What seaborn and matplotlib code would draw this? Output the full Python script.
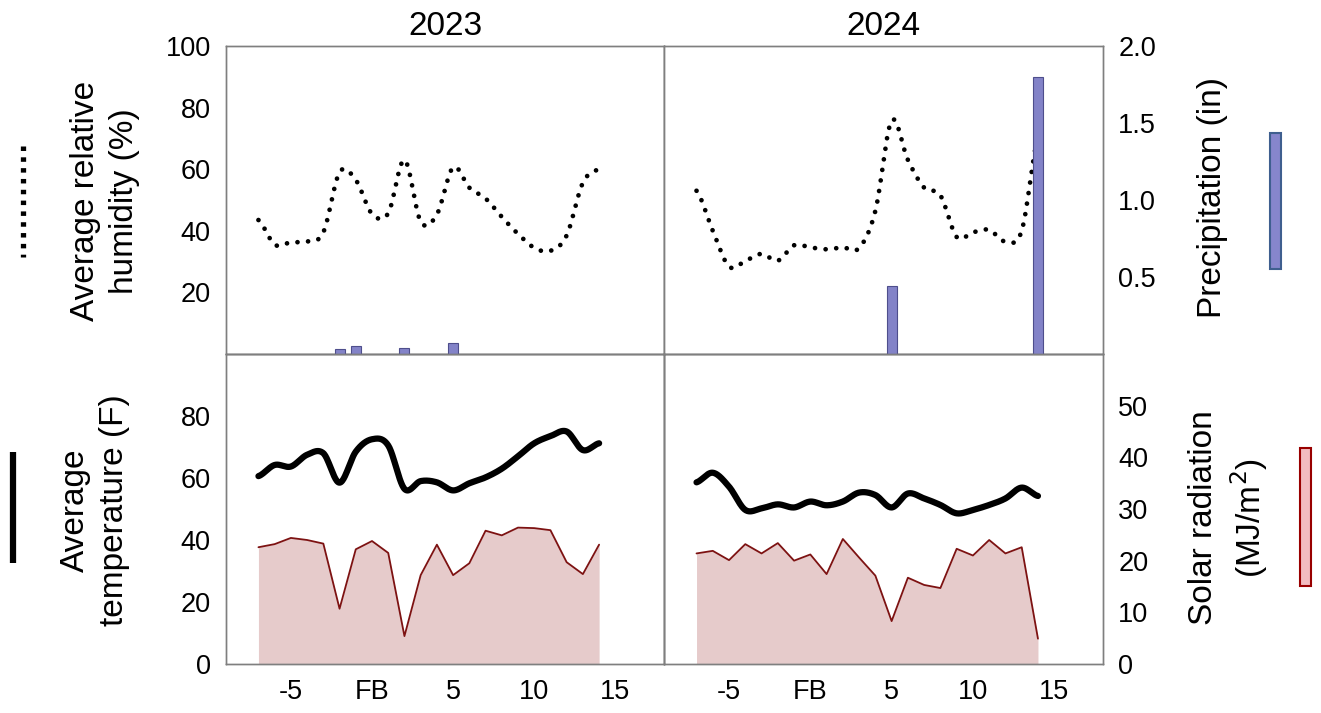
import numpy as np
import pandas as pd
import matplotlib
matplotlib.use("Agg")
import matplotlib.pyplot as plt
import seaborn as sns
from matplotlib.lines import Line2D
from matplotlib.patches import Rectangle

# ---------------- data ----------------
days = list(range(-7, 15))
years = ["2023", "2024"]

humidity_2023 = [43.5, 35.5, 36.3, 36.5, 39.5, 59.0, 56.5, 45.5, 45.7, 63.0, 43.0,
                 45.3, 60.6, 54.0, 50.5, 44.5, 39.0, 34.5, 33.5, 38.5, 55.6, 60.0]
humidity_2024 = [53.0, 40.0, 28.4, 30.2, 32.5, 30.3, 35.3, 34.6, 34.0, 34.6, 34.4,
                 46.5, 75.8, 63.0, 54.0, 51.5, 38.0, 39.5, 40.3, 36.5, 40.0, 70.0]

precip_days_2023 = [-2, -1, 2, 5]
precip_2023 = [0.03, 0.05, 0.04, 0.07]
precip_days_2024 = [5, 14]
precip_2024 = [0.44, 1.80]

temp_2023 = [60.6, 64.2, 63.7, 67.5, 68.0, 58.5, 68.5, 72.5, 70.5, 56.5, 59.0,
             58.6, 56.0, 58.3, 60.2, 63.0, 67.0, 71.2, 73.5, 75.0, 69.0, 71.2]
temp_2024 = [58.6, 61.7, 57.2, 49.7, 50.2, 51.5, 50.5, 52.4, 51.2, 52.4, 55.3,
             54.5, 50.5, 55.0, 53.4, 51.3, 48.6, 49.7, 51.3, 53.4, 56.9, 54.2]

solar_2023 = [22.6, 23.2, 24.4, 24.0, 23.3, 10.7, 22.2, 23.8, 21.5, 5.4, 17.2,
              23.1, 17.2, 19.5, 25.8, 24.9, 26.4, 26.3, 25.9, 19.7, 17.4, 23.1]
solar_2024 = [21.4, 21.9, 20.1, 23.2, 21.4, 23.4, 20.0, 21.2, 17.4, 24.2, 20.6,
              17.1, 8.3, 16.7, 15.3, 14.7, 22.3, 21.0, 24.0, 21.4, 22.6, 4.9]

xtick_pos = [-5, 0, 5, 10, 15]
xtick_labels = ["-5", "FB", "5", "10", "15"]

humidity = {"2023": humidity_2023, "2024": humidity_2024}
temp = {"2023": temp_2023, "2024": temp_2024}
solar = {"2023": solar_2023, "2024": solar_2024}
precip = {"2023": (precip_days_2023, precip_2023), "2024": (precip_days_2024, precip_2024)}


def smooth(x, y, n=24):
    """Catmull-Rom rendering of a smoothed line through the data points."""
    x = np.asarray(x, float)
    y = np.asarray(y, float)
    xp = np.concatenate([[x[0]], x, [x[-1]]])
    yp = np.concatenate([[y[0]], y, [y[-1]]])
    xs, ys = [], []
    for i in range(1, len(x)):
        p0, p1, p2, p3 = yp[i - 1], yp[i], yp[i + 1], yp[i + 2]
        t = np.linspace(0, 1, n, endpoint=(i == len(x) - 1))
        yy = 0.5 * (2 * p1 + (-p0 + p2) * t + (2 * p0 - 5 * p1 + 4 * p2 - p3) * t ** 2
                    + (-p0 + 3 * p1 - 3 * p2 + p3) * t ** 3)
        xx = x[i - 1] + (x[i] - x[i - 1]) * t
        xs.append(xx)
        ys.append(yy)
    return np.concatenate(xs), np.concatenate(ys)


# ---------------- style ----------------
sns.set_theme(style="white")
plt.rcParams["font.family"] = ["Liberation Sans", "DejaVu Sans"]
plt.rcParams["text.color"] = "black"
plt.rcParams["axes.labelcolor"] = "black"
plt.rcParams["xtick.color"] = "black"
plt.rcParams["ytick.color"] = "black"

W, H = 1321, 713
fig = plt.figure(figsize=(W / 100, H / 100), dpi=100)

def px_axes(x0, y0, x1, y1):
    return fig.add_axes([x0 / W, 1 - y1 / H, (x1 - x0) / W, (y1 - y0) / H])

frame_color = "#7f7f7f"
tick_fs = 19.5
label_fs = 24
bar_face = "#8383c8"
bar_edge = "#4e4e8c"
fill_col = "#e6cbcb"
solar_line = "#7d1212"

cols = {"2023": (226, 664), "2024": (664, 1103)}
top_rows = (46, 354)
bot_rows = (354, 664)

for j, yr in enumerate(years):
    x0, x1 = cols[yr]
    # ---- top: humidity + precipitation ----
    ax_h = px_axes(x0, top_rows[0], x1, top_rows[1])
    ax_p = ax_h.twinx()
    hx, hy = smooth(days, humidity[yr])
    sns.lineplot(x=hx, y=hy, ax=ax_h, color="black", linewidth=3.4, sort=False,
                 dashes=False, zorder=2)
    ln = ax_h.lines[-1]
    ln.set_dashes((0.01, 2.25))
    ln.set_dash_capstyle("round")
    pdays, pvals = precip[yr]
    ax_p.bar(pdays, pvals, width=0.62, color=bar_face, edgecolor=bar_edge,
             linewidth=0.8, zorder=3)
    ax_h.set_ylim(0, 100)
    ax_p.set_ylim(0, 2.0)
    ax_h.set_xlim(-9, 18)
    ax_h.set_xticks([])
    ax_p.set_xticks([])

    # ---- bottom: temperature + solar ----
    ax_t = px_axes(x0, bot_rows[0], x1, bot_rows[1])
    ax_s = ax_t.twinx()
    ax_t.set_zorder(ax_s.get_zorder() + 1)
    ax_t.patch.set_visible(False)
    ax_s.fill_between(days, 0, solar[yr], color=fill_col, linewidth=0, zorder=1)
    sns.lineplot(x=days, y=solar[yr], ax=ax_s, color=solar_line, linewidth=1.3, zorder=2)
    tx, ty = smooth(days, temp[yr])
    sns.lineplot(x=tx, y=ty, ax=ax_t, color="black", linewidth=4.5, sort=False, zorder=3)
    ln = ax_t.lines[-1]
    ln.set_solid_capstyle("round")
    ln.set_solid_joinstyle("round")
    ax_t.set_ylim(0, 100)
    ax_s.set_ylim(0, 60)
    ax_t.set_xlim(-9, 18)
    ax_t.set_xticks(xtick_pos)
    ax_t.set_xticklabels(xtick_labels)

    for ax in (ax_h, ax_p, ax_t, ax_s):
        ax.set_xlabel("")
        ax.set_ylabel("")
        for sp in ax.spines.values():
            sp.set_color(frame_color)
            sp.set_linewidth(1.0)
        ax.tick_params(length=0, labelsize=tick_fs, colors="black", pad=11)
        ax.grid(False)

    if j == 0:
        ax_h.set_yticks([20, 40, 60, 80, 100])
        ax_p.set_yticks([])
        ax_t.set_yticks([0, 20, 40, 60, 80])
        ax_s.set_yticks([])
    else:
        ax_h.set_yticks([])
        ax_p.set_yticks([0.5, 1.0, 1.5, 2.0])
        ax_p.set_yticklabels(["0.5", "1.0", "1.5", "2.0"])
        ax_t.set_yticks([])
        ax_s.set_yticks([0, 10, 20, 30, 40, 50])

    ax_h.set_title(yr, fontsize=label_fs, pad=8, color="black")

# ---------------- axis titles ----------------
fig.text(105 / W, 1 - 201 / H, "Average relative\nhumidity (%)", rotation=90,
         ha="center", va="center", fontsize=label_fs, linespacing=1.3, color="black")
fig.text(95 / W, 1 - 510 / H, "Average\ntemperature (F)", rotation=90,
         ha="center", va="center", fontsize=label_fs, linespacing=1.3, color="black")
fig.text(1213 / W, 1 - 197 / H, "Precipitation (in)", rotation=90,
         ha="center", va="center", fontsize=label_fs, color="black")
fig.text(1229 / W, 1 - 518 / H, "Solar radiation\n(MJ/m$^2$)", rotation=90,
         ha="center", va="center", fontsize=label_fs, linespacing=1.3, color="black")

# ---------------- legend keys ----------------
def fx(v):
    return v / W

def fy(v):
    return 1 - v / H

key_dot = Line2D([fx(23), fx(23)], [fy(146), fy(257)], transform=fig.transFigure,
                 color="black", linewidth=3.8)
key_dot.set_dashes((0.85, 1.2))
key_dot.set_dash_capstyle("butt")
fig.add_artist(key_dot)
fig.add_artist(Line2D([fx(13), fx(13)], [fy(452), fy(563)], transform=fig.transFigure,
                      color="black", linewidth=4.5, solid_capstyle="butt"))
fig.add_artist(Rectangle((fx(1270), fy(269)), fx(11), (269 - 133) / H,
                         transform=fig.transFigure, facecolor="#8686cc",
                         edgecolor="#3f5f8f", linewidth=1.5))
fig.add_artist(Rectangle((fx(1300), fy(586)), fx(11), (586 - 448) / H,
                         transform=fig.transFigure, facecolor="#f2bcc0",
                         edgecolor="#990000", linewidth=1.5))

fig.savefig("out.png", dpi=100, facecolor="white")
